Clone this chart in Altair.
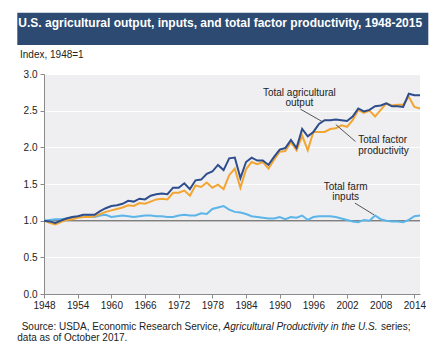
import altair as alt
import pandas as pd

years = list(range(1948, 2016))

output = [1.00, 0.99, 0.97, 1.00, 1.03, 1.05, 1.06, 1.08, 1.08, 1.08,
          1.13, 1.17, 1.20, 1.21, 1.23, 1.27, 1.26, 1.30, 1.29, 1.34,
          1.36, 1.37, 1.36, 1.45, 1.45, 1.51, 1.43, 1.55, 1.56, 1.64,
          1.67, 1.76, 1.69, 1.85, 1.86, 1.58, 1.80, 1.86, 1.82, 1.82,
          1.76, 1.87, 1.97, 1.99, 2.10, 1.99, 2.25, 2.15, 2.21, 2.32,
          2.37, 2.37, 2.38, 2.37, 2.36, 2.42, 2.53, 2.49, 2.51, 2.56,
          2.57, 2.60, 2.56, 2.56, 2.55, 2.73, 2.71, 2.71]

tfp = [1.00, 0.97, 0.95, 0.98, 1.01, 1.02, 1.04, 1.05, 1.05, 1.06,
       1.09, 1.12, 1.14, 1.16, 1.18, 1.21, 1.20, 1.24, 1.23, 1.26,
       1.29, 1.30, 1.29, 1.38, 1.38, 1.41, 1.34, 1.48, 1.46, 1.52,
       1.45, 1.49, 1.43, 1.62, 1.71, 1.45, 1.70, 1.80, 1.77, 1.80,
       1.71, 1.83, 1.94, 1.95, 2.07, 1.96, 2.16, 1.96, 2.21, 2.21,
       2.21, 2.25, 2.26, 2.30, 2.28, 2.37, 2.51, 2.47, 2.50, 2.42,
       2.51, 2.60, 2.57, 2.58, 2.58, 2.69, 2.55, 2.53]

inputs = [1.00, 1.01, 1.02, 1.02, 1.03, 1.04, 1.05, 1.05, 1.06, 1.05,
          1.07, 1.08, 1.05, 1.06, 1.07, 1.06, 1.05, 1.06, 1.07, 1.07,
          1.06, 1.06, 1.05, 1.05, 1.07, 1.08, 1.07, 1.07, 1.10, 1.09,
          1.16, 1.18, 1.20, 1.15, 1.12, 1.11, 1.09, 1.06, 1.05, 1.04,
          1.03, 1.03, 1.05, 1.02, 1.05, 1.04, 1.07, 1.01, 1.05, 1.06,
          1.06, 1.06, 1.05, 1.03, 1.01, 0.99, 0.98, 1.01, 1.00, 1.07,
          1.02, 1.00, 0.99, 0.99, 0.98, 1.01, 1.06, 1.07]

x_ticks = list(range(1948, 2015, 6))
y_ticks = [0.0, 0.5, 1.0, 1.5, 2.0, 2.5, 3.0]

ann_text = ["Total agricultural", "output", "Total factor", "productivity",
            "Total farm", "inputs"]
ann_x = [1993.5, 1993.5, 2004.0, 2004.0, 2001.75, 2001.75]
ann_y = [2.745, 2.60, 2.10, 1.955, 1.464, 1.319]
ann_align = ["center", "center", "left", "left", "center", "center"]

ptr_x = [1993.7, 2000.0, 2003.4]
ptr_y = [2.52, 2.31, 1.24]
ptr_x2 = [1997.6, 2003.5, 2006.8]
ptr_y2 = [2.35, 2.08, 1.08]

FONT = "Liberation Sans"

xs = alt.Scale(domain=[1948, 2015], nice=False, zero=False)
ys = alt.Scale(domain=[0, 3], nice=False)

xax = alt.Axis(values=x_ticks, format="d", title=None, grid=False,
               domainColor="#8a8a8a", tickColor="#8a8a8a", tickSize=4,
               labelFontSize=10, labelColor="#222", labelFont=FONT,
               labelFlush=False, labelPadding=2, labelOverlap=False)
yax = alt.Axis(values=y_ticks, format=".1f", title=None, grid=True,
               gridColor="white", gridWidth=1, domainColor="#8a8a8a",
               tickColor="#8a8a8a", tickSize=4, labelFontSize=10,
               labelColor="#222", labelFont=FONT, labelPadding=3,
               labelOverlap=False)

X = alt.X("year:Q", scale=xs, axis=xax)
Y = alt.Y("value:Q", scale=ys, axis=yax)


def series_df(vals):
    return pd.DataFrame({"year": years, "value": vals})


rule1 = alt.Chart(pd.DataFrame({"value": [1.0]})).mark_rule(
    color="#7f7f7f", strokeWidth=1.5).encode(y=Y)


def line(vals, color):
    return alt.Chart(series_df(vals)).mark_line(color=color, strokeWidth=2).encode(
        x=X, y=Y)


l_in = line(inputs, "#5bb5e8")
l_tfp = line(tfp, "#f2a531")
l_out = line(output, "#2d4d8c")

ann_df = pd.DataFrame({"t": ann_text, "year": ann_x, "value": ann_y, "a": ann_align})
ann_c = alt.Chart(ann_df[ann_df.a == "center"]).mark_text(
    font=FONT, fontSize=10, color="#222", align="center", baseline="middle"
).encode(x=X, y=Y, text="t:N")
ann_l = alt.Chart(ann_df[ann_df.a == "left"]).mark_text(
    font=FONT, fontSize=10, color="#222", align="left", baseline="middle"
).encode(x=X, y=Y, text="t:N")

ptr_df = pd.DataFrame({"year": ptr_x, "value": ptr_y, "x2": ptr_x2, "y2": ptr_y2})
ptrs = alt.Chart(ptr_df).mark_rule(color="#555", strokeWidth=1).encode(
    x=X, y=Y, x2="x2:Q", y2="y2:Q")

one = pd.DataFrame({"k": [0]})
banner = alt.Chart(one).mark_rect(color="#2c4a72").encode(
    x=alt.value(-26.7), x2=alt.value(384.3), y=alt.value(-61.3), y2=alt.value(-29))


def txt(s, x, y, size=10, weight="normal", style="normal", color="#222"):
    return alt.Chart(one).mark_text(
        text=s, font=FONT, fontSize=size, fontWeight=weight, fontStyle=style,
        color=color, align="left", baseline="alphabetic"
    ).encode(x=alt.value(x), y=alt.value(y))


title = txt("U.S. agricultural output, inputs, and total factor productivity, 1948-2015",
            -25.7, -47.5, size=12, weight="bold", color="white")
ylab = txt("Index, 1948=1", -24, -16.5)
src1 = txt("Source: USDA, Economic Research Service, ", -22.3, 255.5)
src2 = txt("Agricultural Productivity in the U.S.", 179.6, 255.5, style="italic")
src3 = txt("series;", 337, 255.5)
src4 = txt("data as of October 2017.", -26.7, 267)

chart = alt.layer(
    rule1, l_in, l_tfp, l_out, ptrs, ann_c, ann_l,
    banner, title, ylab, src1, src2, src3, src4
).properties(
    width=376, height=220,
    padding={"left": 36, "top": 66, "right": 9, "bottom": 56},
    autosize=alt.AutoSizeParams(type="none"),
    background="white",
).configure_view(fill="#efeff1", stroke=None)

chart.save("out.html", embed_options={"renderer": "svg", "actions": False})
